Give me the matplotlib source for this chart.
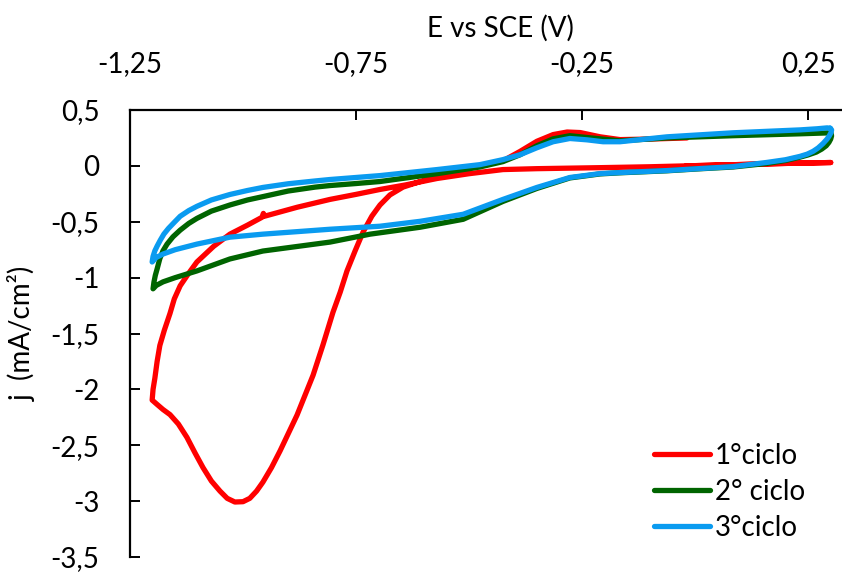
import numpy as np
import matplotlib
matplotlib.use("Agg")
import matplotlib.pyplot as plt
from matplotlib.ticker import FuncFormatter

# Cyclic voltammetry, three consecutive cycles (E in V vs SCE, j in mA/cm2)

# 1st cycle: starts near 0 V, goes out to +0.3 V and back, then down to -1.2 V
E1 = [-0.02, 0.10, 0.20, 0.30, 0.20, 0.10, 0.00, -0.10, -0.21, -0.35, -0.425,
      -0.50, -0.571, -0.64, -0.697, -0.75, -0.8075, -0.88, -0.952, -0.955,
      -0.958, -0.99, -1.029, -1.065, -1.102, -1.12, -1.139, -1.152, -1.1615,
      -1.174, -1.184, -1.19, -1.195, -1.199, -1.201,
      -1.19, -1.177, -1.1615, -1.143, -1.124, -1.106, -1.0885, -1.07, -1.051,
      -1.035, -1.018, -1.0, -0.985, -0.97, -0.956, -0.937, -0.918, -0.8805,
      -0.845, -0.823, -0.801, -0.785, -0.77, -0.752, -0.7345, -0.715, -0.697,
      -0.675, -0.646, -0.608, -0.575, -0.542, -0.476, -0.425, -0.387, -0.35,
      -0.314, -0.283, -0.254, -0.21, -0.166, -0.10, -0.018]
j1 = [0.00, 0.012, 0.022, 0.030, 0.022, 0.012, 0.002, -0.008, -0.016, -0.025,
      -0.033, -0.07, -0.113, -0.17, -0.211, -0.255, -0.30, -0.37, -0.45,
      -0.425, -0.46, -0.53, -0.611, -0.72, -0.86, -0.96, -1.073, -1.19, -1.32,
      -1.47, -1.607, -1.75, -1.90, -2.00, -2.096,
      -2.135, -2.18, -2.226, -2.31, -2.43, -2.57, -2.70, -2.82, -2.91,
      -2.975, -3.008, -3.005, -2.975, -2.91, -2.83, -2.70, -2.55, -2.23,
      -1.873, -1.60, -1.31, -1.13, -0.94, -0.76, -0.593, -0.45, -0.35,
      -0.26, -0.19, -0.14, -0.10, -0.06, 0.0, 0.045, 0.13, 0.22,
      0.28, 0.303, 0.298, 0.26, 0.235, 0.24, 0.25]

# 2nd cycle: cathodic branch from +0.3 V, then anodic branch back
E2 = [0.30, 0.302, 0.300, 0.296, 0.29, 0.28, 0.268, 0.25, 0.232, 0.20, 0.159,
      0.084, 0.011, -0.062, -0.166, -0.21, -0.277, -0.35, -0.425, -0.513,
      -0.608, -0.719, -0.8075, -0.956, -1.029, -1.102, -1.15, -1.177, -1.192,
      -1.199,
      -1.197, -1.194, -1.19, -1.184, -1.177, -1.168, -1.155, -1.139, -1.12,
      -1.102, -1.07, -1.029, -0.99, -0.956, -0.9, -0.8405, -0.8075, -0.75,
      -0.697, -0.571, -0.476, -0.425, -0.387, -0.35, -0.314, -0.277, -0.23,
      -0.166, -0.062, 0.084, 0.232, 0.30]
j2 = [0.296, 0.27, 0.24, 0.21, 0.18, 0.15, 0.123, 0.098, 0.078, 0.048, 0.022,
      -0.010, -0.026, -0.044, -0.062, -0.072, -0.108, -0.202, -0.318, -0.478,
      -0.549, -0.611, -0.682, -0.762, -0.833, -0.94, -1.00, -1.038, -1.07,
      -1.10,
      -1.04, -0.98, -0.922, -0.83, -0.76, -0.70, -0.635, -0.575, -0.515,
      -0.47, -0.405, -0.35, -0.305, -0.275, -0.225, -0.19, -0.176, -0.158,
      -0.14, -0.07, -0.01, 0.038, 0.10, 0.18, 0.242, 0.27, 0.25,
      0.224, 0.25, 0.27, 0.287, 0.296]

# 3rd cycle
E3 = [0.299, 0.302, 0.301, 0.297, 0.292, 0.283, 0.272, 0.261, 0.248, 0.232,
      0.20, 0.159, 0.084, 0.011, -0.062, -0.166, -0.21, -0.277, -0.35, -0.425,
      -0.513, -0.608, -0.697, -0.8075, -0.956, -1.029, -1.102, -1.15, -1.177,
      -1.192, -1.201,
      -1.199, -1.195, -1.19, -1.183, -1.175, -1.165, -1.152, -1.139, -1.12,
      -1.102, -1.07, -1.029, -0.99, -0.956, -0.9, -0.8405, -0.8075, -0.697,
      -0.571, -0.476, -0.425, -0.387, -0.35, -0.314, -0.277, -0.239, -0.2035,
      -0.166, -0.062, 0.084, 0.232, 0.27, 0.292, 0.299]
j3 = [0.337, 0.322, 0.30, 0.27, 0.24, 0.20, 0.16, 0.13, 0.105, 0.085,
      0.055, 0.031, -0.007, -0.024, -0.042, -0.06, -0.069, -0.104, -0.193, -0.30,
      -0.433, -0.496, -0.54, -0.567, -0.611, -0.638, -0.70, -0.75, -0.789,
      -0.82, -0.86,
      -0.81, -0.76, -0.718, -0.665, -0.61, -0.56, -0.505, -0.451, -0.40,
      -0.362, -0.305, -0.256, -0.22, -0.193, -0.16, -0.135, -0.122, -0.087,
      -0.033, 0.011, 0.056, 0.10, 0.162, 0.216, 0.245, 0.233, 0.216,
      0.216, 0.26, 0.296, 0.322, 0.332, 0.34, 0.337]

labels = ["1°ciclo", "2° ciclo", "3°ciclo"]
colors = ["#FF0000", "#006400", "#0A9BF0"]

xticks = [-1.25, -0.75, -0.25, 0.25]
yticks = [0.5, 0, -0.5, -1, -1.5, -2, -2.5, -3, -3.5]

plt.rcParams["font.family"] = ["Lato", "DejaVu Sans"]
plt.rcParams["font.size"] = 20
plt.rcParams["axes.unicode_minus"] = False

fig = plt.figure(figsize=(8.42, 5.72), dpi=100)
ax = fig.add_axes([130 / 842, 15 / 572, 712 / 842, 447 / 572])

for E, j, lab, c in zip([E1, E2, E3], [j1, j2, j3], labels, colors):
    ax.plot(E, j, color=c, lw=3.8, label=lab,
            solid_joinstyle="round", solid_capstyle="round", clip_on=False)

ax.set_xlim(-1.25, 0.325)
ax.set_ylim(-3.5, 0.5)
ax.set_xticks(xticks)
ax.set_yticks(yticks)

comma = FuncFormatter(lambda v, pos: f"{v:g}".replace(".", ","))
ax.xaxis.set_major_formatter(comma)
ax.yaxis.set_major_formatter(comma)

# x axis sits on top, crossing at j = 0.5
ax.xaxis.tick_top()
ax.xaxis.set_label_position("top")
for s in ["bottom", "right"]:
    ax.spines[s].set_visible(False)
for s in ["top", "left"]:
    ax.spines[s].set_linewidth(1.6)
ax.tick_params(axis="x", direction="in", length=7, width=1.4, pad=24)
ax.tick_params(axis="y", direction="in", length=7, width=1.4, pad=22)

ax.set_xlabel("E vs SCE (V)", va="center")
ax.xaxis.set_label_coords((500 - 130) / 712, (557 - 28) / 447)
ax.set_ylabel("j  (mA/cm²)", va="center")
ax.yaxis.set_label_coords((22 - 130) / 712, 0.5)

leg = ax.legend(loc="upper left", bbox_to_anchor=(654 / 842, 1 - 443 / 572),
                bbox_transform=fig.transFigure, frameon=False, borderpad=0,
                borderaxespad=0, handlelength=2.0, handletextpad=0.2,
                labelspacing=0.36)

fig.savefig("out.png", dpi=100)
